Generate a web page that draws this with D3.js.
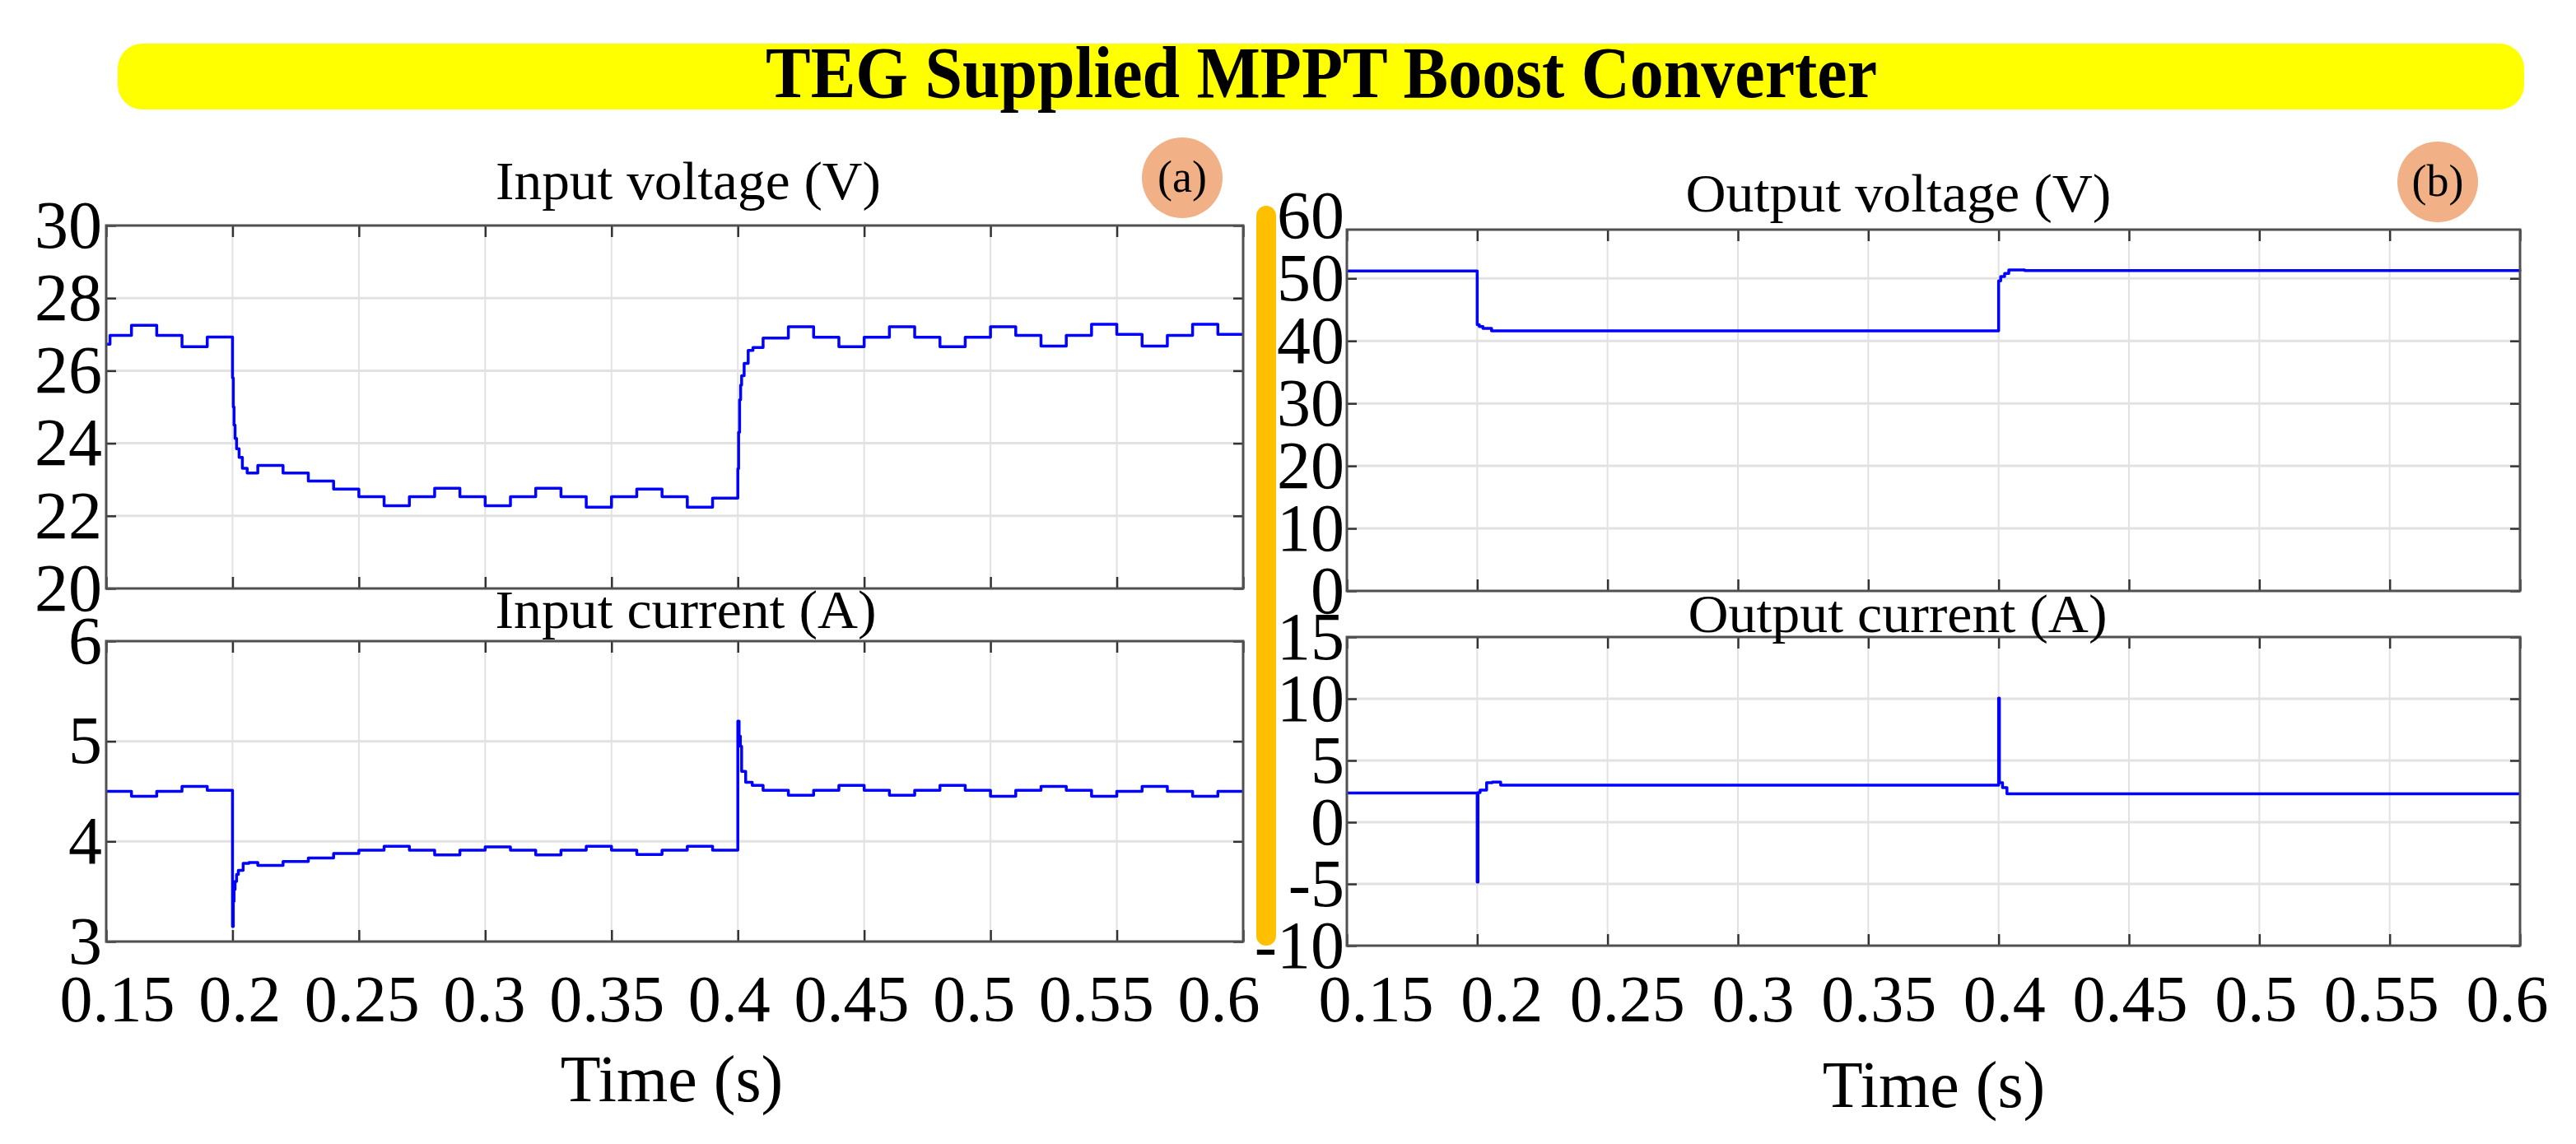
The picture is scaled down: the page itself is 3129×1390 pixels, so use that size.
<!DOCTYPE html>
<html>
<head>
<meta charset="utf-8">
<script src="https://cdn.jsdelivr.net/npm/d3@7"></script>
<style>
  body { margin: 0; background: #fff; }
  text { font-family: "Liberation Serif", "Times New Roman", serif; }
</style>
</head>
<body>
<script>
var width = 3129,
  height = 1390;

// shared time axis (s)
var timeTicks = [0.15, 0.2, 0.25, 0.3, 0.35, 0.4, 0.45, 0.5, 0.55, 0.6];

// (a) input voltage (V)
var vinTicks = [20, 22, 24, 26, 28, 30];
var vinT = [0.15, 0.1515, 0.16, 0.17, 0.18, 0.19,
  0.2, 0.2003, 0.2006, 0.201, 0.2016, 0.2026, 0.2039, 0.2058,
  0.21, 0.22, 0.23, 0.24, 0.25, 0.26, 0.27, 0.28, 0.29, 0.3, 0.31, 0.32, 0.33, 0.34, 0.35, 0.36, 0.37, 0.38, 0.39,
  0.4, 0.4003, 0.4007, 0.4011, 0.4015, 0.4025, 0.4041, 0.406,
  0.41, 0.42, 0.43, 0.44, 0.45, 0.46, 0.47, 0.48, 0.49, 0.5, 0.51, 0.52, 0.53, 0.54, 0.55, 0.56, 0.57, 0.58, 0.59, 0.6];
var vinV = [26.73, 26.97, 27.25, 26.97, 26.66, 26.93,
  25.8, 25.0, 24.5, 24.13, 23.85, 23.61, 23.31, 23.18,
  23.39, 23.18, 22.96, 22.74, 22.53, 22.28, 22.53, 22.76, 22.53, 22.28, 22.53, 22.76, 22.53, 22.24, 22.53, 22.74, 22.53, 22.24, 22.49,
  23.3, 24.3, 25.2, 25.6, 25.86, 26.2, 26.56, 26.64,
  26.9, 27.21, 26.92, 26.66, 26.92, 27.21, 26.92, 26.66, 26.92, 27.21, 26.97, 26.68, 26.97, 27.28, 27.0, 26.68, 26.97, 27.28, 27.0, 27.0];

// (a) input current (A)
var iinTicks = [3, 4, 5, 6];
var iinT = [0.15, 0.16, 0.17, 0.18, 0.19,
  0.2, 0.2003, 0.2006, 0.201, 0.2016, 0.2023, 0.2042, 0.2065,
  0.21, 0.22, 0.23, 0.24, 0.25, 0.26, 0.27, 0.28, 0.29, 0.3, 0.31, 0.32, 0.33, 0.34, 0.35, 0.36, 0.37, 0.38, 0.39,
  0.4, 0.4005, 0.401, 0.4015, 0.4031, 0.4057,
  0.41, 0.42, 0.43, 0.44, 0.45, 0.46, 0.47, 0.48, 0.49, 0.5, 0.51, 0.52, 0.53, 0.54, 0.55, 0.56, 0.57, 0.58, 0.59, 0.6];
var iinV = [4.5, 4.45, 4.5, 4.55, 4.51,
  3.15, 3.4, 3.52, 3.6, 3.67, 3.71, 3.78, 3.79,
  3.76, 3.8, 3.835, 3.88, 3.913, 3.951, 3.913, 3.866, 3.913, 3.945, 3.913, 3.866, 3.913, 3.951, 3.913, 3.87, 3.913, 3.951, 3.913,
  5.2, 5.05, 4.95, 4.7, 4.59, 4.56,
  4.51, 4.46, 4.51, 4.56, 4.51, 4.46, 4.51, 4.56, 4.51, 4.45, 4.51, 4.55, 4.51, 4.45, 4.5, 4.55, 4.5, 4.45, 4.5, 4.5];

// (b) output voltage (V)
var voutTicks = [0, 10, 20, 30, 40, 50, 60];
var voutT = [0.15, 0.2, 0.2008, 0.2022, 0.2055, 0.4, 0.4008, 0.4023, 0.4039, 0.41, 0.6];
var voutV = [51.2, 42.6, 42.3, 42.0, 41.6, 49.6, 50.3, 50.8, 51.35, 51.25, 51.2];

// (b) output current (A)
var ioutTicks = [-10, -5, 0, 5, 10, 15];
var ioutT = [0.15, 0.2, 0.2003, 0.2011, 0.2036, 0.2058, 0.209, 0.4, 0.4003, 0.4015, 0.4032, 0.6];
var ioutV = [2.36, -4.85, 2.4, 2.6, 3.2, 3.25, 3.0, 10.05, 3.2, 2.8, 2.3, 2.3];

var svg = d3.select("body").append("svg")
  .attr("width", width)
  .attr("height", height);

// title banner
svg.append("rect")
  .attr("x", 143).attr("y", 53)
  .attr("width", 2923).attr("height", 80)
  .attr("rx", 30)
  .attr("fill", "#ffff00");
svg.append("text")
  .attr("x", 1605).attr("y", 118)
  .attr("text-anchor", "middle")
  .attr("font-size", 88)
  .attr("font-weight", "bold")
  .attr("textLength", 1350)
  .attr("lengthAdjust", "spacingAndGlyphs")
  .text("TEG Supplied MPPT Boost Converter");

// orange divider
svg.append("rect")
  .attr("x", 1526).attr("y", 250)
  .attr("width", 24).attr("height", 899)
  .attr("rx", 12)
  .attr("fill", "#ffc000");

// panel badges
[{ cx: 1436, cy: 216, label: "(a)" }, { cx: 2961, cy: 221, label: "(b)" }].forEach(function (b) {
  svg.append("circle")
    .attr("cx", b.cx).attr("cy", b.cy).attr("r", 49)
    .attr("fill", "#f1b085");
  svg.append("text")
    .attr("x", b.cx).attr("y", b.cy + 17)
    .attr("text-anchor", "middle")
    .attr("font-size", 54)
    .text(b.label);
});

var plots = [
  { left: 129, right: 1510, top: 274, bottom: 715, domain: [20, 30], ticks: vinTicks, t: vinT, v: vinV,
    title: "Input voltage (V)", tx: 836, ty: 242, tl: 468, pad: 5 },
  { left: 129, right: 1510, top: 779, bottom: 1144, domain: [3, 6], ticks: iinTicks, t: iinT, v: iinV,
    title: "Input current (A)", tx: 833, ty: 763, tl: 463, pad: 5,
    labelRange: [142, 1480], xTitle: 816, xTitleY: 1338 },
  { left: 1636, right: 3061, top: 279, bottom: 718, domain: [0, 57.8], ticks: voutTicks, t: voutT, v: voutV,
    title: "Output voltage (V)", tx: 2306, ty: 257, tl: 517, pad: 3 },
  { left: 1636, right: 3061, top: 774, bottom: 1149, domain: [-10, 15], ticks: ioutTicks, t: ioutT, v: ioutV,
    title: "Output current (A)", tx: 2305, ty: 768, tl: 509, pad: 3,
    labelRange: [1671, 3045], xTitle: 2349, xTitleY: 1345 }
];

plots.forEach(drawPlot);

function styleAxis(g, size) {
  g.select(".domain").remove();
  g.attr("font-family", "Liberation Serif, Times New Roman, serif")
    .attr("font-size", size)
    .attr("color", "#000");
}

function drawPlot(p) {
  var x = d3.scaleLinear().domain([0.15, 0.6]).range([p.left, p.right]);
  var y = d3.scaleLinear().domain(p.domain).range([p.bottom, p.top]);
  var g = svg.append("g");

  var innerY = p.ticks.filter(function (d) { return d > p.domain[0] && d < p.domain[1]; });
  var innerX = timeTicks.slice(1, -1);
  var inY = p.ticks.filter(function (d) { return d >= p.domain[0] && d <= p.domain[1]; });

  // grid
  g.selectAll(".vgrid").data(innerX).join("line")
    .attr("class", "vgrid")
    .attr("x1", x).attr("x2", x)
    .attr("y1", p.top).attr("y2", p.bottom)
    .attr("stroke", "#e2e2e2").attr("stroke-width", 2);
  g.selectAll(".hgrid").data(innerY).join("line")
    .attr("class", "hgrid")
    .attr("x1", p.left).attr("x2", p.right)
    .attr("y1", y).attr("y2", y)
    .attr("stroke", "#e2e2e2").attr("stroke-width", 3);

  // trace
  var line = d3.line()
    .x(function (d) { return x(d[0]); })
    .y(function (d) { return y(d[1]); })
    .curve(d3.curveStepAfter);
  g.append("path")
    .datum(d3.zip(p.t, p.v))
    .attr("fill", "none")
    .attr("stroke", "#0000ff")
    .attr("stroke-width", 3.5)
    .attr("stroke-linejoin", "round")
    .attr("d", line);

  // inward tick marks on all four sides
  g.append("g").attr("transform", "translate(0," + p.top + ")")
    .call(d3.axisBottom(x).tickValues(timeTicks).tickSize(14).tickFormat(""))
    .call(styleAxis, 10);
  g.append("g").attr("transform", "translate(0," + p.bottom + ")")
    .call(d3.axisTop(x).tickValues(timeTicks).tickSize(14).tickFormat(""))
    .call(styleAxis, 10);
  g.append("g").attr("transform", "translate(" + p.left + ",0)")
    .call(d3.axisRight(y).tickValues(inY).tickSize(12).tickFormat(""))
    .call(styleAxis, 10);
  g.append("g").attr("transform", "translate(" + p.right + ",0)")
    .call(d3.axisLeft(y).tickValues(inY).tickSize(12).tickFormat(""))
    .call(styleAxis, 10);
  g.selectAll(".tick line").attr("stroke", "#333").attr("stroke-width", 2.5);

  // frame
  g.append("rect")
    .attr("x", p.left).attr("y", p.top)
    .attr("width", p.right - p.left).attr("height", p.bottom - p.top)
    .attr("fill", "none")
    .attr("stroke", "#505050")
    .attr("stroke-width", 3);

  // y tick labels
  g.append("g").attr("transform", "translate(" + p.left + ",0)")
    .call(d3.axisLeft(y).tickValues(p.ticks).tickSize(0).tickPadding(p.pad).tickFormat(String))
    .call(styleAxis, 82);

  // subplot title
  g.append("text")
    .attr("x", p.tx).attr("y", p.ty)
    .attr("text-anchor", "middle")
    .attr("font-size", 66)
    .attr("textLength", p.tl)
    .attr("lengthAdjust", "spacingAndGlyphs")
    .text(p.title);

  // time labels under the lower plots
  if (p.labelRange) {
    var xl = d3.scaleLinear().domain([0.15, 0.6]).range(p.labelRange);
    g.append("g").attr("transform", "translate(0,1184)")
      .call(d3.axisBottom(xl).tickValues(timeTicks).tickSize(0).tickPadding(0)
        .tickFormat(function (d) { return String(+d.toFixed(2)); }))
      .call(styleAxis, 80);
    g.append("text")
      .attr("x", p.xTitle).attr("y", p.xTitleY)
      .attr("text-anchor", "middle")
      .attr("font-size", 80)
      .text("Time (s)");
  }
}
</script>
</body>
</html>
